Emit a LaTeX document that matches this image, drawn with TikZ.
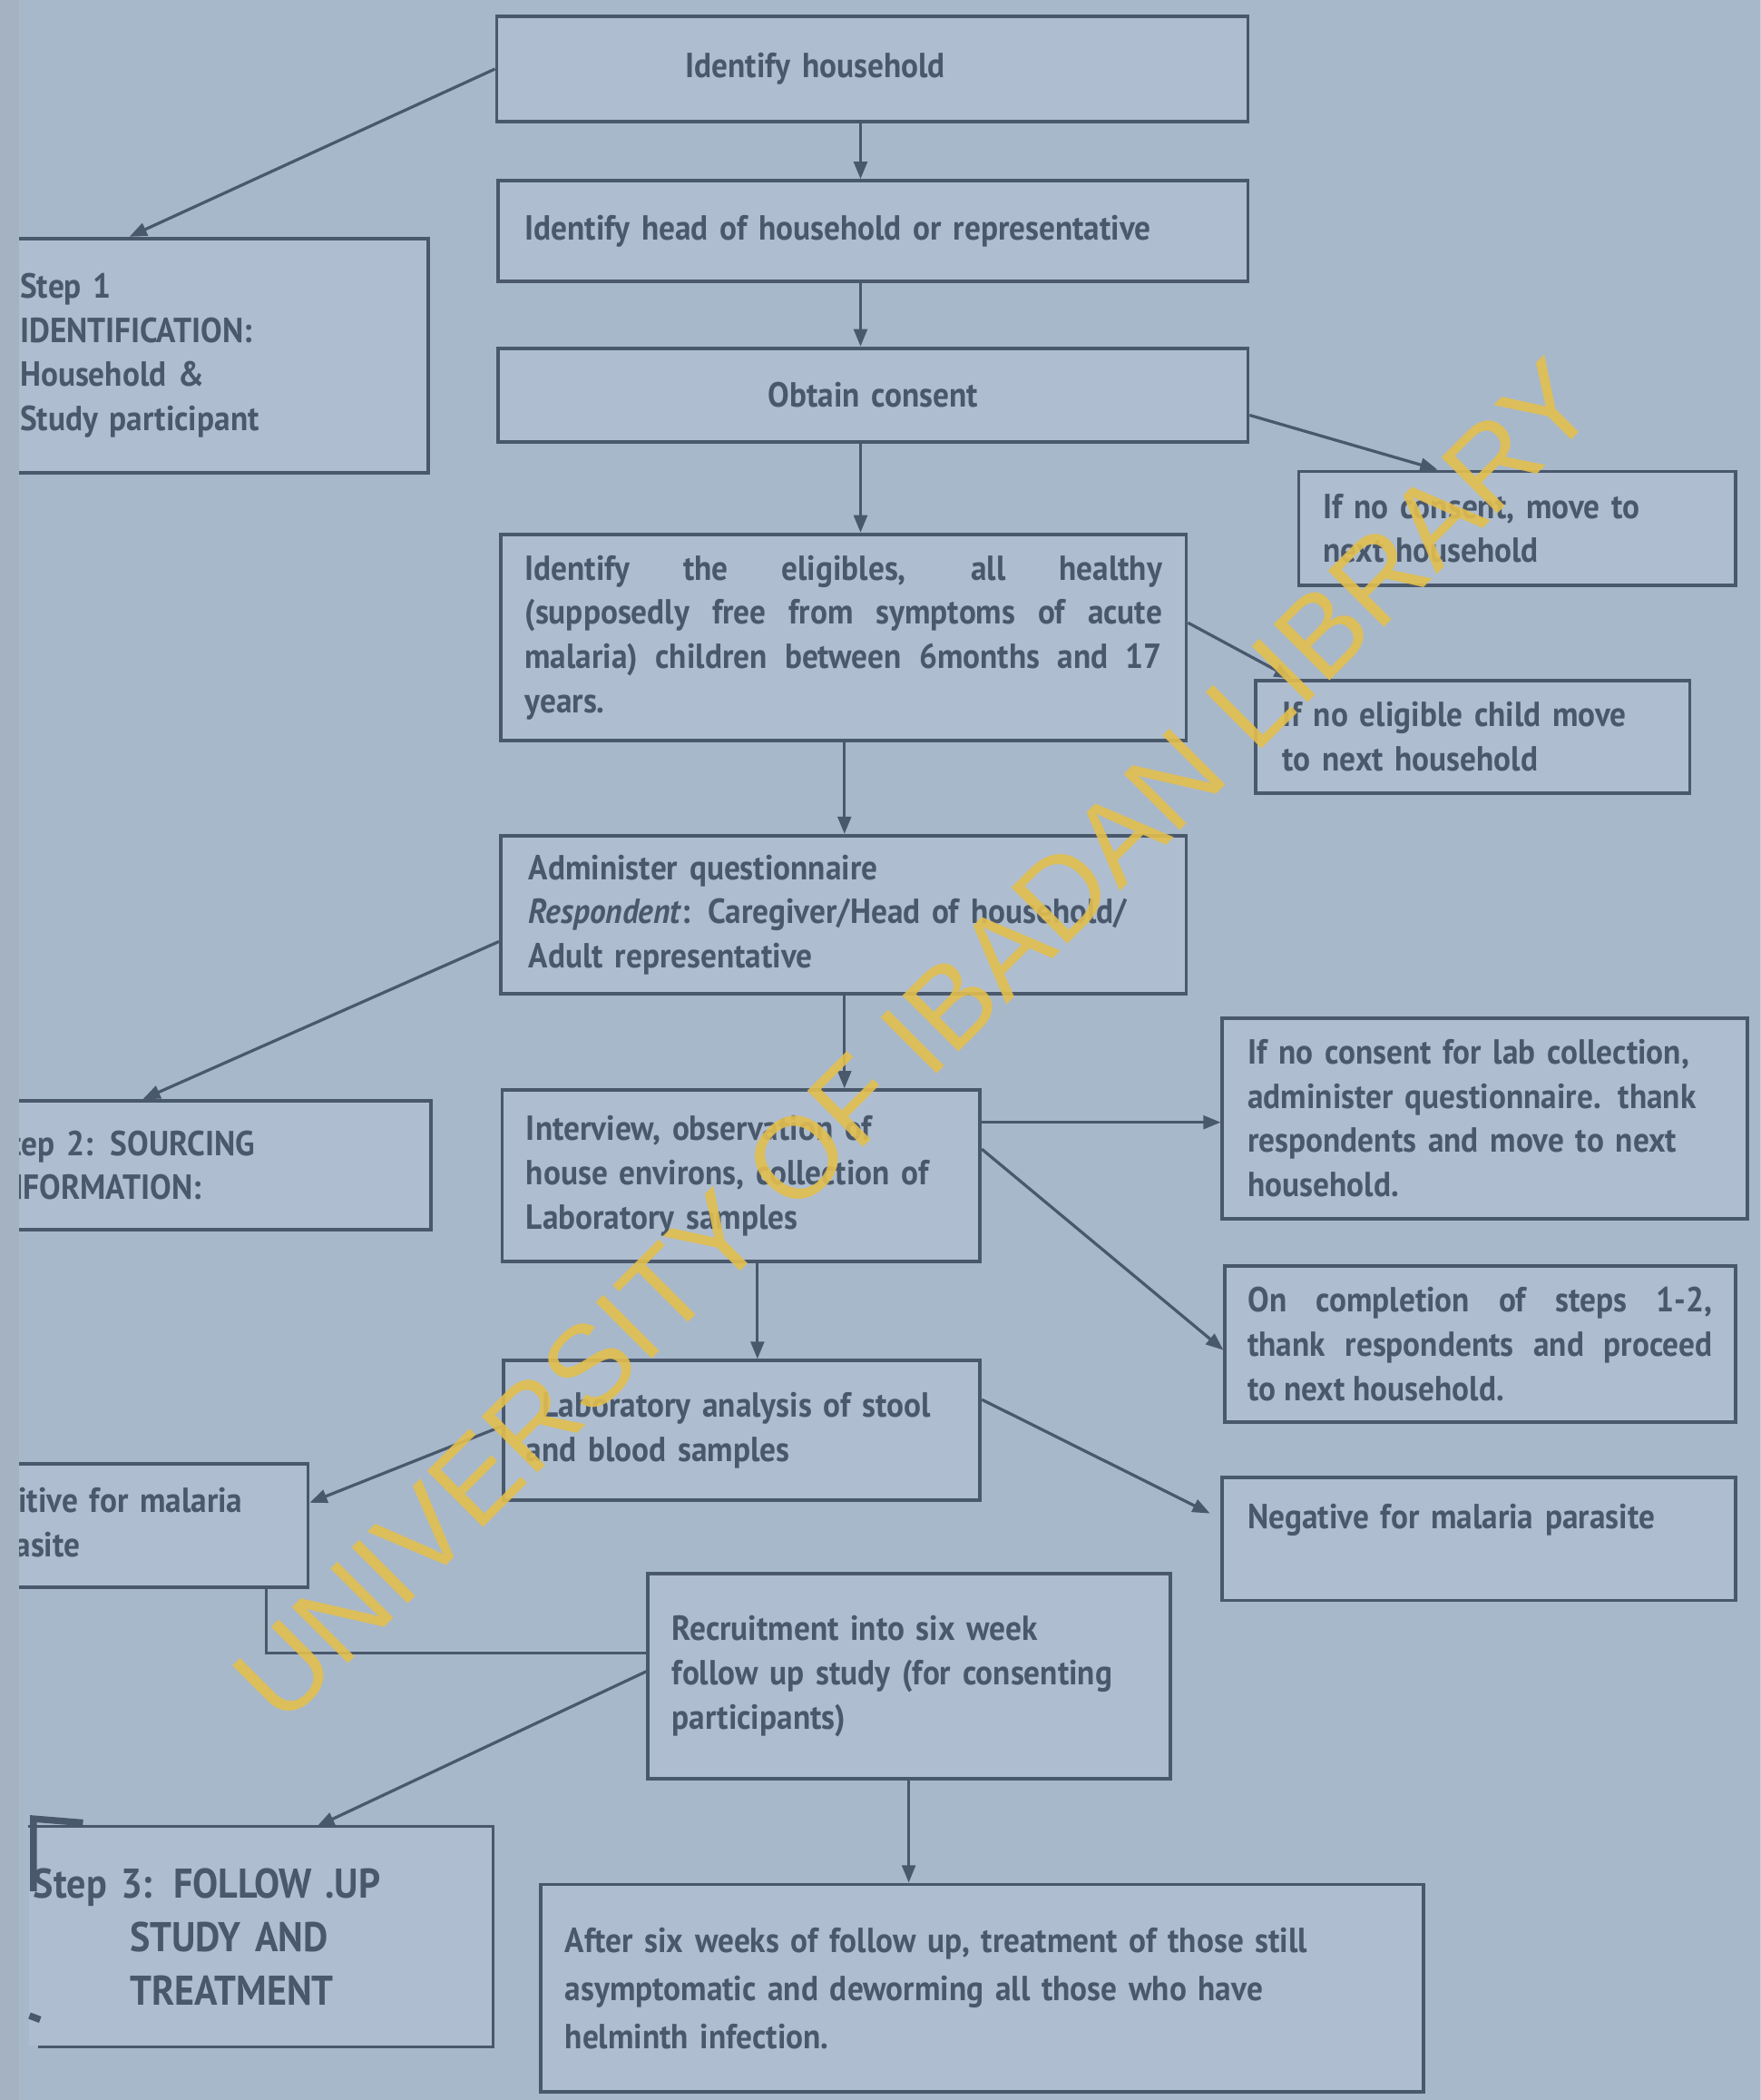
\documentclass[tikz,border=0pt]{standalone}
\usepackage{fontspec}
\setmainfont{PT Sans}[FakeStretch=0.92]
\newfontfamily\wmfont{Liberation Sans}
\usetikzlibrary{arrows.meta}
\definecolor{bg}{HTML}{A8B8CB}
\definecolor{boxfill}{HTML}{AEBDCF}
\definecolor{ink}{HTML}{4A586C}
\definecolor{strip}{HTML}{A5B2C2}
\definecolor{wm}{HTML}{E2BF4E}
\newcommand\bx[8][]{%
  \pgfmathsetmacro\bw{#5-#3}\pgfmathsetmacro\bh{#6-#4}\pgfmathsetmacro\tw{#5-#3-2*#7}%
  \node[box,minimum width=\bw pt,minimum height=\bh pt,text width=\tw pt,inner xsep=#7pt,#1] (#2) at ({(#3+#5)/2},{(#4+#6)/2}) {#8};}
\begin{document}
\begin{tikzpicture}[x=1pt,y=-1pt,
  box/.style={draw=ink,line width=2.6pt,fill=boxfill,text=ink,inner ysep=2pt,
    font=\bfseries\fontsize{26}{33}\selectfont,align=left},
  conn/.style={draw=ink,line width=2.2pt,-{Triangle[length=13pt,width=10pt]}},
  plain/.style={draw=ink,line width=2.2pt},
  wmtext/.style={text=wm,opacity=0.9,font=\wmfont\fontsize{86}{90}\selectfont,inner sep=0pt}]
\useasboundingbox (0,0) rectangle (1315,1568);
\clip (0,0) rectangle (1315,1568);
\fill[bg] (0,0) rectangle (1315,1568);

% main column
\bx{b1}{371}{12}{932}{91}{141}{Identify household}
\bx{b2}{372}{135}{932}{210}{20}{Identify head of household or representative}
\bx[align=center]{b3}{372}{260}{932}{330}{10}{Obtain consent}
\bx[align=justify]{b5}{374}{399}{886}{553}{18}{Identify the eligibles, all healthy\linebreak (supposedly free from symptoms of acute\linebreak malaria) children between 6months and 17\linebreak years.}
\bx{b7}{374}{624}{886}{742}{21}{Administer questionnaire\\\textit{Respondent}: Caregiver/Head of household/\\Adult representative}
\bx{int}{375}{814}{732}{942}{18}{Interview, observation of\\house environs, collection of\\Laboratory samples}
\bx{lab}{376}{1016}{732}{1120}{17}{\hspace*{12pt}Laboratory analysis of stool\\and blood samples}
\bx{rec}{484}{1175}{874}{1328}{18}{Recruitment into six week\\follow up study (for consenting\\participants)}
\bx[font=\bfseries\fontsize{26}{36}\selectfont]{fin}{404}{1407}{1063}{1562}{18}{After six weeks of follow up, treatment of those still\\asymptomatic and deworming all those who have\\helminth infection.}

% right column
\bx{b4}{970}{352}{1296}{437}{18}{If no consent, move to\\next household}
\bx{b6}{938}{508}{1262}{592}{20}{If no eligible child move\\to next household}
\bx{labc}{913}{760}{1305}{910}{19}{If no consent for lab collection,\\administer questionnaire. thank\\respondents and move to next\\household.}
\bx[align=justify]{comp}{915}{945}{1296}{1062}{17}{On completion of steps 1-2,\linebreak thank respondents and proceed\linebreak to next household.}
\bx{neg}{913}{1103}{1296}{1195}{19}{Negative for malaria parasite\\\mbox{}}

% left column
\bx{s1}{-30}{178}{320}{353}{45}{Step 1\\IDENTIFICATION:\\Household \&\\Study participant}
\bx{s2}{-30}{822}{322}{918}{25}{Step 2: SOURCING\\INFORMATION:}
\bx{pos}{-40}{1093}{230}{1185}{18}{Positive for malaria\\parasite}
\bx[draw=none,font=\bfseries\fontsize{31}{40}\selectfont]{s3}{22}{1365}{367}{1527}{3}{Step 3: FOLLOW .UP\\\hspace*{72pt}STUDY AND\\\hspace*{72pt}TREATMENT}
\draw[plain,line width=2.6pt] (s3.north west) -- (s3.north east) -- (s3.south east) -- ([xshift=8pt]s3.south west);
\draw[plain,line width=5pt] (25,1412) -- (25,1358) -- (62,1361);
\draw[plain,line width=5pt] (22,1505) -- (30,1508);

% left page strip
\fill[strip] (0,0) rectangle (14,1568);

% connectors
\draw[conn] (b1.west) -- ([xshift=128pt]s1.north west);
\draw[conn] ([xshift=273pt]b1.south west) -- ([xshift=273pt]b1.south west |- b2.north);
\draw[conn] ([xshift=272pt]b2.south west) -- ([xshift=272pt]b2.south west |- b3.north);
\draw[conn] ([xshift=272pt]b3.south west) -- ([xshift=272pt]b3.south west |- b5.north);
\draw[conn] ([yshift=-15pt]b3.east) -- ([xshift=105pt]b4.north west);
\draw[conn] ([yshift=11pt]b5.east) -- ([xshift=28pt]b6.north west);
\draw[conn] ([xshift=258pt]b5.south west) -- ([xshift=258pt]b5.south west |- b7.north);
\draw[conn] ([yshift=-20pt]b7.west) -- ([xshift=138pt]s2.north west);
\draw[conn] ([xshift=258pt]b7.south west) -- ([xshift=258pt]b7.south west |- int.north);
\draw[conn] ([yshift=40pt]int.east) -- ([yshift=40pt]int.east -| labc.west);
\draw[conn] ([yshift=20pt]int.east) -- ([yshift=-4.5pt]comp.west);
\draw[conn] ([xshift=192pt]int.south west) -- ([xshift=192pt]int.south west |- lab.north);
\draw[conn] ([yshift=3pt]lab.west) -- ([yshift=17pt]pos.east);
\draw[conn] ([yshift=23pt]lab.east) -- ([xshift=-8pt,yshift=19pt]neg.west);
\draw[plain] ([xshift=240pt]pos.south west) |- ([yshift=17pt]rec.west);
\draw[conn] ([yshift=3.5pt]rec.west) -- ([xshift=216pt]s3.north west);
\draw[conn] ([xshift=196pt]rec.south west) -- ([xshift=196pt]rec.south west |- fin.north);

% watermark
\node[wmtext,rotate=45] (wmark) at (683,777) {UNIVERSITY OF IBADAN LIBRARY};
\end{tikzpicture}
\end{document}
